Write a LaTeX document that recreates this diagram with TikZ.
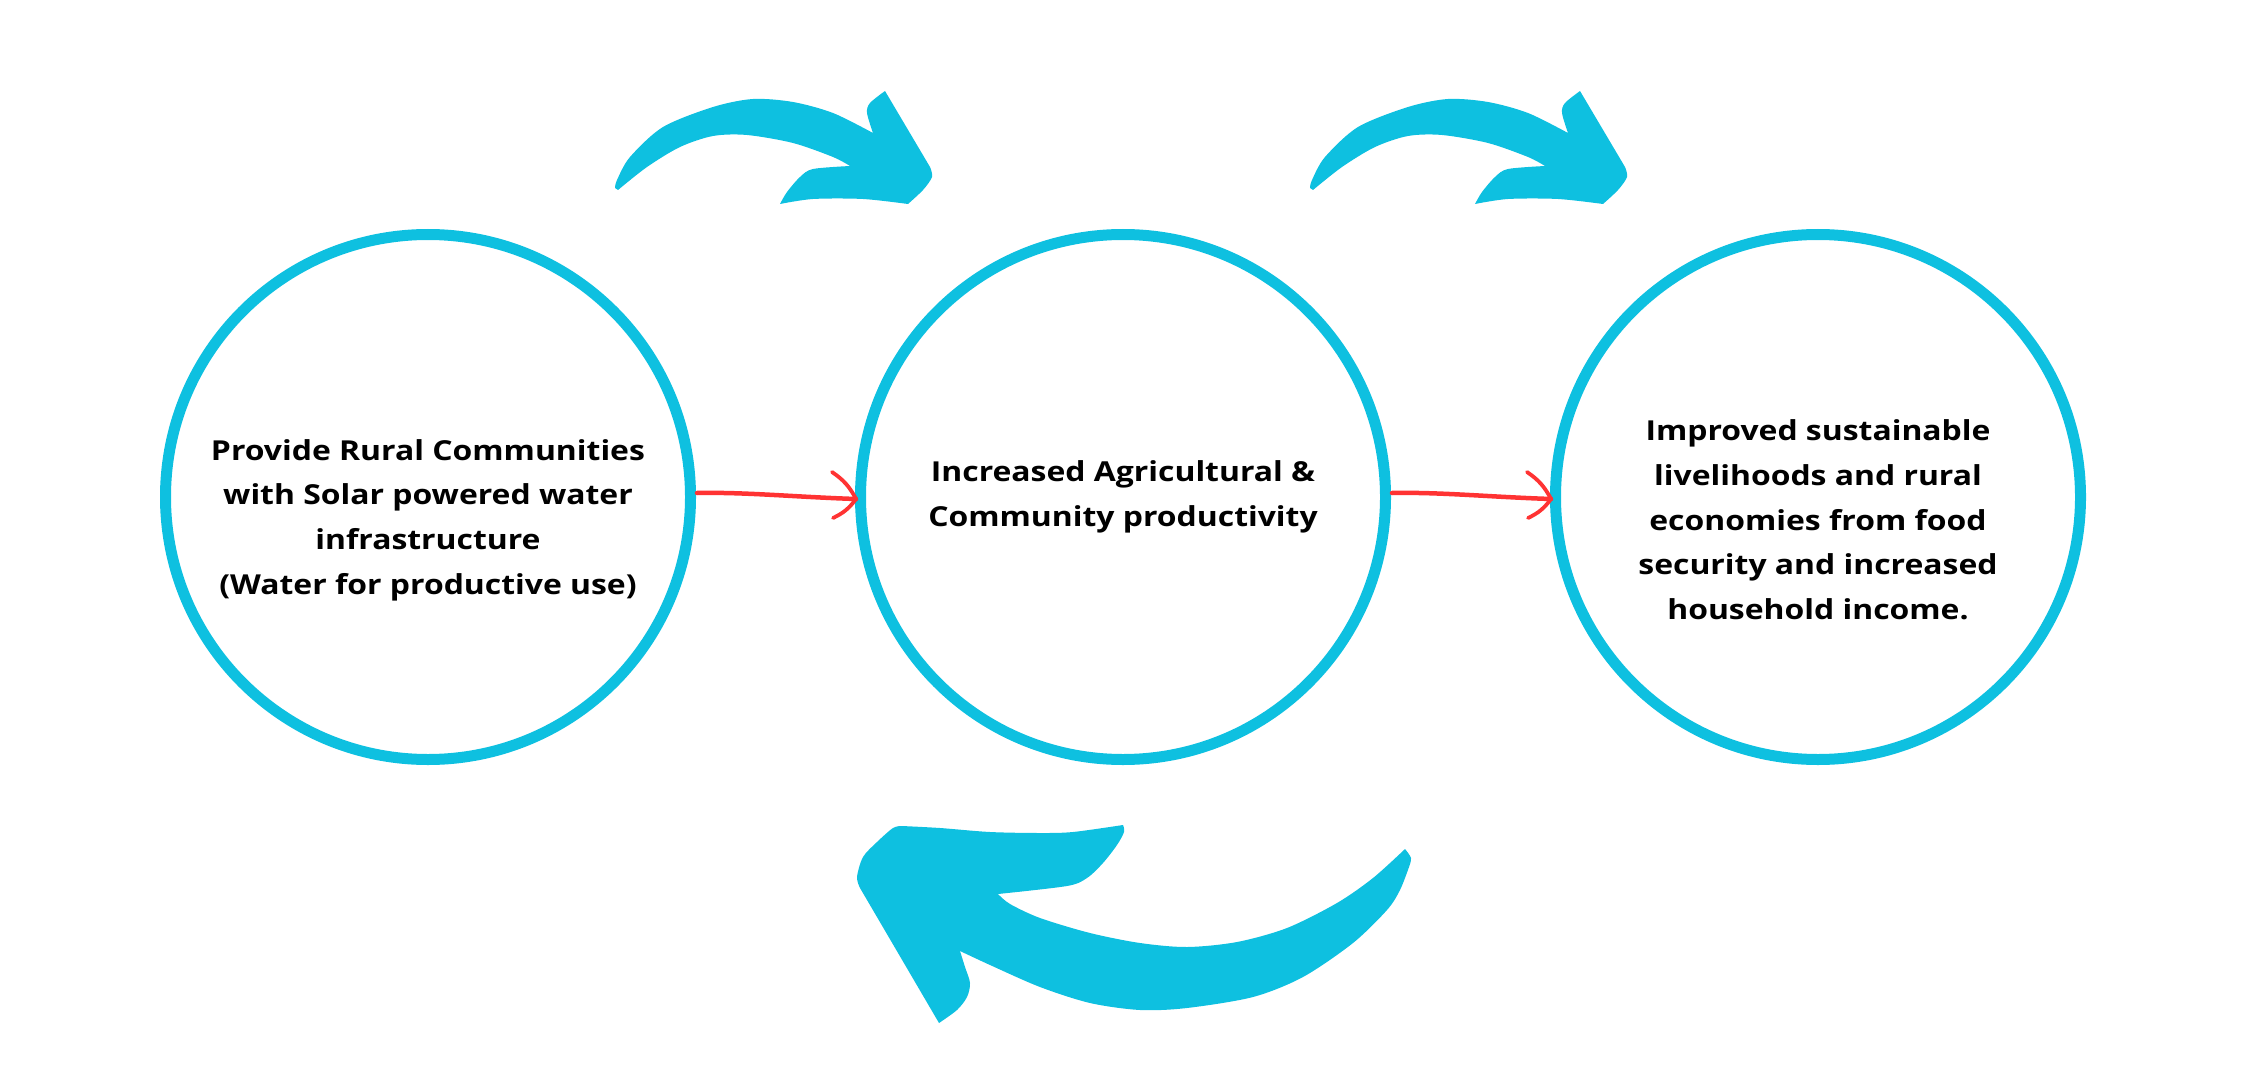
\documentclass[tikz,border=0pt]{standalone}
\usepackage{fontspec}
\newfontfamily\ringfont{Open Sans}[FakeStretch=1.16]
\usetikzlibrary{calc}
\definecolor{ringblue}{RGB}{14,192,224}
\definecolor{arrowred}{RGB}{255,51,51}
\begin{document}
\begin{tikzpicture}[x=1pt,y=-1pt,
  ringnode/.style={circle, draw=ringblue, line width=11pt, minimum size=525pt, inner sep=0pt},
  ringtext/.style={align=center, text=black, inner sep=0pt,
    font=\ringfont\bfseries\fontsize{27.5pt}{44.7pt}\selectfont},
  redshaft/.style={draw=arrowred, line width=4.5pt, line cap=round},
  redbarb/.style={draw=arrowred, line width=3.8pt, line cap=round, line join=round},
  toparrow/.pic={
    \fill[ringblue] plot[smooth, tension=0.5] coordinates {(615,188) (617,180) (630,157) (663,127) (713,107) (753,99) (793,102) (833,113) (873,133)}
      -- plot[smooth] coordinates {(873,133) (867,113) (870,103) (885,91)}
      -- (930,167)
      -- plot[smooth] coordinates {(930,167) (932,177) (923,190) (908,204)}
      -- plot[smooth] coordinates {(908,204) (863,199) (813,199) (780,204)}
      -- plot[smooth] coordinates {(780,204) (787,192) (800,177) (813,169) (850,166)}
      -- plot[smooth] coordinates {(850,166) (833,157) (793,143) (747,135) (713,136) (680,147) (647,167) (618,190)}
      -- cycle;
  }
]
\useasboundingbox (0,0) rectangle (2245,1091);

% circles
\node[ringnode] (c1) at (428,497) {};
\node[ringnode] (c2) at (1123,497) {};
\node[ringnode] (c3) at (1818,497) {};

% texts
\node[ringtext] (t1) at (428,520) {Provide Rural Communities\\with Solar powered water\\infrastructure\\(Water for productive use)};
\node[ringtext] (t2) at (1123,497) {Increased Agricultural \&\\Community productivity};
\node[ringtext] (t3) at (1818,520) {Improved sustainable\\livelihoods and rural\\economies from food\\security and increased\\household income.};

% red arrows
\draw[redshaft] ($(c1.east)+(1,-4)$) .. controls ($(c1.east)+(50,-5)$) and ($(c2.west)+(-60,0)$) .. ($(c2.west)+(1,2)$);
\draw[redbarb] ($(c2.west)+(-23,-25)$) to[bend left=14] ($(c2.west)+(1,2)$) to[bend left=14] ($(c2.west)+(-22,21)$);
\draw[redshaft] ($(c2.east)+(1,-4)$) .. controls ($(c2.east)+(50,-5)$) and ($(c3.west)+(-60,0)$) .. ($(c3.west)+(1,2)$);
\draw[redbarb] ($(c3.west)+(-23,-25)$) to[bend left=14] ($(c3.west)+(1,2)$) to[bend left=14] ($(c3.west)+(-22,21)$);

% blue curved arrows
\pic at (0,0) {toparrow};
\pic at (695,0) {toparrow};

\fill[ringblue] (939,1023) -- (860,888)
  -- plot[smooth] coordinates {(860,888) (857,877) (863,857) (877,842) (893,828) (902,826)}
  -- plot[smooth] coordinates {(902,826) (940,828) (990,832) (1040,833) (1073,832) (1123,825)}
  -- plot[smooth] coordinates {(1123,825) (1124,832) (1117,845) (1103,863) (1087,878) (1067,886) (998,894)}
  -- plot[smooth] coordinates {(998,894) (1010,904) (1040,918) (1090,933) (1140,943) (1187,947) (1237,942) (1287,928) (1337,903) (1373,878) (1405,849)}
  -- plot[smooth] coordinates {(1405,849) (1411,858) (1409,867)}
  -- plot[smooth] coordinates {(1409,867) (1400,890) (1387,910) (1353,943) (1303,977) (1253,997) (1187,1008) (1140,1010) (1090,1003) (1040,987) (990,965) (960,951)}
  -- plot[smooth] coordinates {(960,951) (965,967) (970,983) (967,997) (957,1010) (939,1023)}
  -- cycle;
\end{tikzpicture}
\end{document}
